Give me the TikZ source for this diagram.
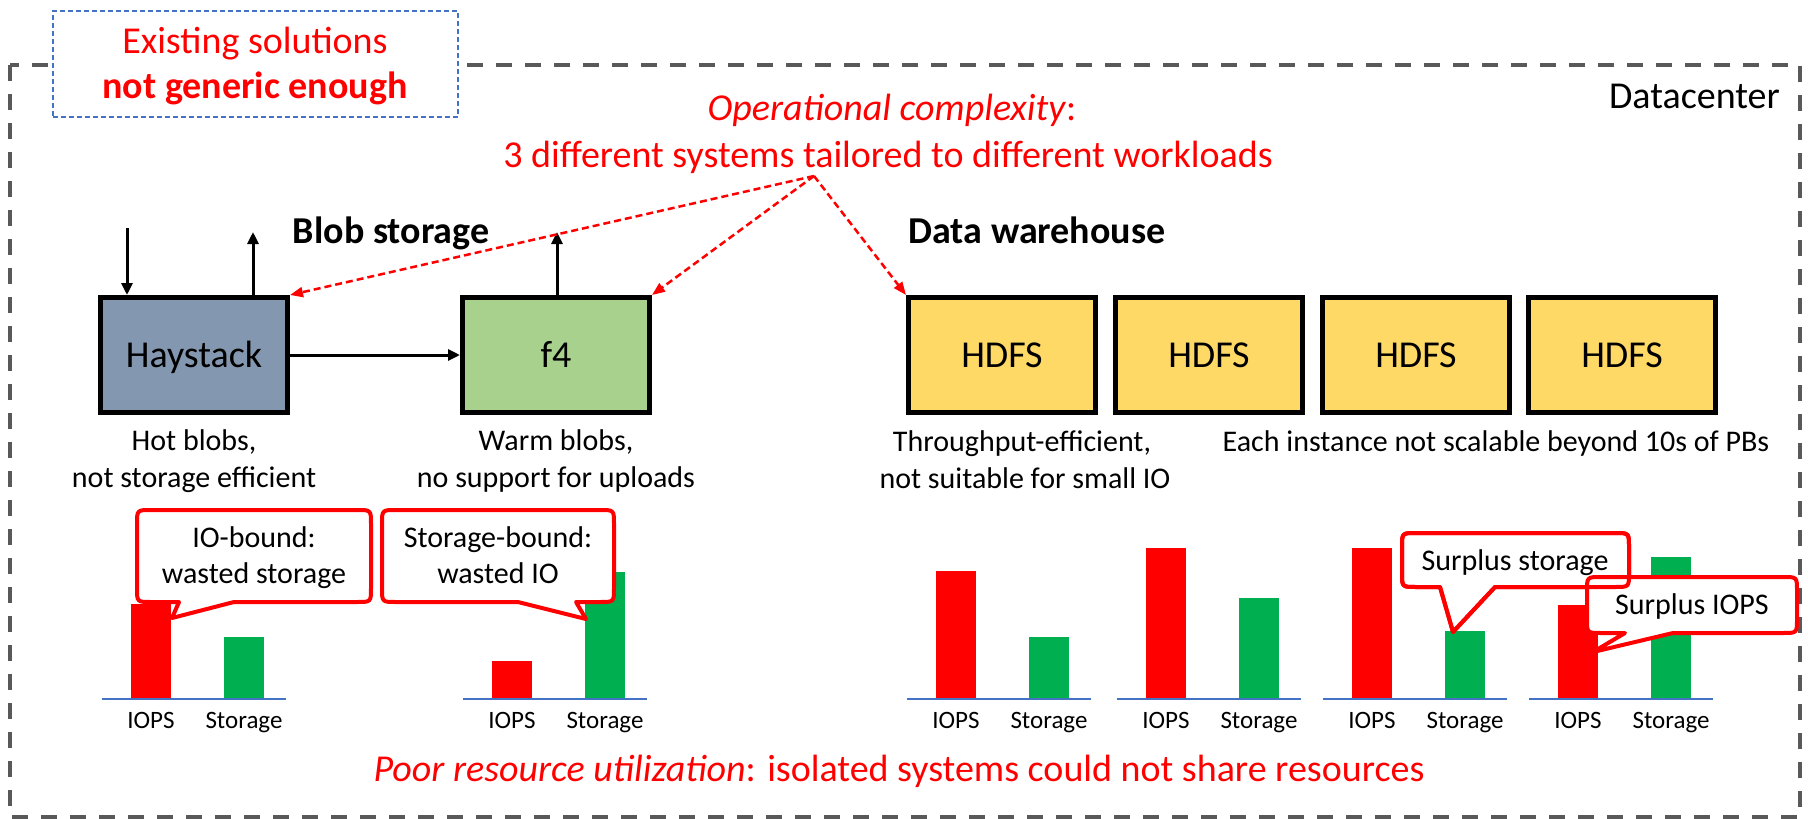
\documentclass[tikz,border=0pt]{standalone}
\usepackage{fontspec}
\setmainfont{Carlito}
\usetikzlibrary{arrows.meta}
\definecolor{cred}{HTML}{FF0000}
\definecolor{cgreen}{HTML}{00B050}
\definecolor{framegray}{HTML}{595959}
\definecolor{cblue}{HTML}{4472C4}
\definecolor{hayfill}{HTML}{8497B0}
\definecolor{ffill}{HTML}{A9D18E}
\definecolor{hdfsfill}{HTML}{FFD966}
% #1 style, #2 x1, #3 y1, #4 x2, #5 y2, #6 wedge left, #7 wedge right, #8 tip x, #9 tip y
\newcommand{\mycallout}[9]{%
 \path[#1] (#6,#5) -- ({#2+14},#5) .. controls (#2,#5) .. (#2,{#5-14})
   -- (#2,{#3+14}) .. controls (#2,#3) .. ({#2+14},#3)
   -- ({#4-14},#3) .. controls (#4,#3) .. (#4,{#3+14})
   -- (#4,{#5-14}) .. controls (#4,#5) .. ({#4-14},#5)
   -- (#7,#5) -- (#8,#9) -- cycle;}
\begin{document}
\begin{tikzpicture}[x=1pt,y=-1pt,
  big/.style={font=\fontsize{38}{46}\selectfont},
  captxt/.style={anchor=base,inner sep=0pt,font=\fontsize{30}{36}\selectfont},
  lbl/.style={anchor=base,inner sep=0pt,font=\fontsize{25}{30}\selectfont},
  sysbox/.style={draw=black,line width=5pt,minimum width=187pt,minimum height=115pt,
    inner sep=0pt,text height=25pt,text depth=0pt,font=\fontsize{38}{46}\selectfont},
  blk/.style={-{Triangle[length=12pt,width=11pt]},line width=3pt},
  redarr/.style={-{Triangle[length=13pt,width=10pt]},draw=cred,line width=2.5pt,
    dash pattern=on 7pt off 4pt},
  callout/.style={draw=cred,line width=4pt,fill=white,line join=round},
  calloutline/.style={draw=cred,line width=4pt,line join=round},
]
\useasboundingbox (0,0) rectangle (1808,819);
% datacenter frame
\draw[framegray,line width=4pt,dash pattern=on 16pt off 13pt] (10,65) rectangle (1800,817);
\node[big,anchor=base east,inner sep=0pt] (dc) at (1780,108) {Datacenter};
% existing solutions box
\node[draw=cblue,fill=white,line width=1.5pt,dash pattern=on 5pt off 3pt,
  minimum width=405pt,minimum height=106pt,inner sep=0pt] (exist) at (255.5,64) {};
\node[big,anchor=base,inner sep=0pt,text=cred] (ex1) at (255,53) {Existing solutions};
\node[big,anchor=base,inner sep=0pt,text=cred] (ex2) at (255,98) {\bfseries not generic enough};
% operational complexity
\node[big,anchor=base,inner sep=0pt,text=cred] (op1) at (892,120) {\textit{Operational complexity}:};
\node[big,anchor=base,inner sep=0pt,text=cred] (op2) at (888,167) {3 different systems tailored to different workloads};
\coordinate (oc) at (814,176);
% group titles
\node[big,anchor=base,inner sep=0pt] (blob) at (391,243) {\bfseries Blob storage};
\node[big,anchor=base,inner sep=0pt] (dw) at (1037,243) {\bfseries Data warehouse};
% systems
\node[sysbox,fill=hayfill] (hay) at (194,355) {Haystack};
\node[sysbox,fill=ffill] (f4) at (556,355) {f4};
\node[sysbox,fill=hdfsfill] (h1) at (1002,355) {HDFS};
\node[sysbox,fill=hdfsfill] (h2) at (1209,355) {HDFS};
\node[sysbox,fill=hdfsfill] (h3) at (1416,355) {HDFS};
\node[sysbox,fill=hdfsfill] (h4) at (1622,355) {HDFS};
% black arrows
\coordinate (hin) at (127,228);
\coordinate (hout) at (253,232);
\coordinate (fout) at (557,232);
\draw[blk] (hin) -- (hin |- hay.north);
\draw[blk] (hout |- hay.north) -- (hout);
\draw[blk] (fout |- f4.north) -- (fout);
\draw[blk] (hay.east) -- (f4.west);
% red dashed arrows
\draw[redarr] (oc) -- (hay.north east);
\draw[redarr] (oc) -- (f4.north east);
\draw[redarr] (oc) -- (h1.north west);
% captions
\node[captxt] (c1a) at (194,450) {Hot blobs,};
\node[captxt] (c1b) at (194,487) {not storage efficient};
\node[captxt] (c2a) at (556,450) {Warm blobs,};
\node[captxt] (c2b) at (556,487) {no support for uploads};
\node[captxt] (c3a) at (1022,451) {Throughput-efficient,};
\node[captxt] (c3b) at (1025,488) {not suitable for small IO};
\node[captxt] (c4) at (1496,451) {Each instance not scalable beyond 10s of PBs};
% bar charts
\foreach \l/\rt/\gt [count=\i] in {102/604/637, 463/661/572, 907/571/637, 1117/548/598, 1323/548/631, 1529/605/557} {
  \fill[cred] ({\l+29},\rt) rectangle ({\l+69},699);
  \fill[cgreen] ({\l+122},\gt) rectangle ({\l+162},699);
  \draw[cblue,line width=2pt] (\l,699) -- ({\l+184},699);
  \node[lbl] (iops\i) at ({\l+49},728) {IOPS};
  \node[lbl] (stor\i) at ({\l+142},728) {Storage};
}
% callouts
\mycallout{callout}{137}{510}{371}{602}{179}{234}{172}{618}
\mycallout{callout}{382}{510}{614}{602}{518}{576}{586}{619}
\mycallout{callout}{1402}{533}{1629}{587}{1440}{1495}{1453}{632}
\mycallout{callout}{1587}{577}{1797}{633}{1625}{1673}{1593}{652}
\mycallout{calloutline}{1402}{533}{1629}{587}{1440}{1495}{1453}{632}
\node[captxt] (k1a) at (254,547) {IO-bound:};
\node[captxt] (k1b) at (254,583) {wasted storage};
\node[captxt] (k2a) at (498,547) {Storage-bound:};
\node[captxt] (k2b) at (498,583) {wasted IO};
\node[captxt] (k3) at (1515,570) {Surplus storage};
\node[captxt] (k4) at (1692,614) {Surplus IOPS};
% bottom statement
\node[big,anchor=base,inner sep=0pt,text=cred] (poor) at (899,781) {\textit{Poor resource utilization}: isolated systems could not share resources};
\end{tikzpicture}
\end{document}
